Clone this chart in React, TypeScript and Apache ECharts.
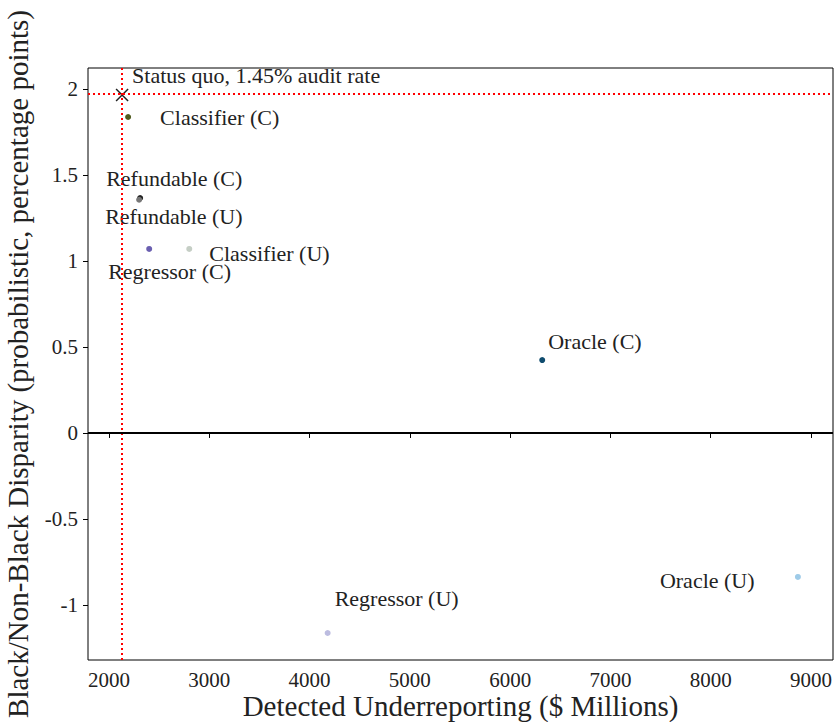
import React, { useEffect, useRef } from "react";
import * as echarts from "echarts";

const pointNames = [
  "Classifier (C)",
  "Refundable (C)",
  "Refundable (U)",
  "Regressor (C)",
  "Classifier (U)",
  "Oracle (C)",
  "Oracle (U)",
  "Regressor (U)",
];
const detected = [2190, 2310, 2300, 2400, 2800, 6320, 8870, 4180];
const disparity = [1.837, 1.366, 1.356, 1.07, 1.07, 0.424, -0.837, -1.163];
const pointColors = ["#4f5b1e", "#222222", "#777777", "#6a5fb0", "#c5cec5", "#0f4c6e", "#9ecbe8", "#bcbce0"];
const labelOffsets: number[][] = [
  [32, 0],
  [-34, -20],
  [-34, 17],
  [-41, 23],
  [20, 5],
  [6, -19],
  [-138, 4],
  [7, -34],
];

const statusQuoName = "Status quo, 1.45% audit rate";
const statusQuoX = 2130;
const statusQuoY = 1.965;

const xTicks = [2000, 3000, 4000, 5000, 6000, 7000, 8000, 9000];
const yTicks = [-1, -0.5, 0, 0.5, 1, 1.5, 2];

const FONT = "Liberation Serif";
const LABEL_SIZE = 22;

export default function App() {
  const ref = useRef<HTMLDivElement>(null);
  useEffect(() => {
    document.body.style.margin = "0";
    const chart = echarts.init(ref.current!, null, { renderer: "svg" });
    const data = pointNames.map((n, i) => ({
      name: n,
      value: [detected[i], disparity[i]],
      itemStyle: { color: pointColors[i], opacity: 1 },
      label: {
        show: true,
        formatter: n,
        position: "inside",
        align: "left",
        verticalAlign: "middle",
        offset: labelOffsets[i],
        color: "#222",
        fontFamily: FONT,
        fontSize: LABEL_SIZE,
      },
    }));
    chart.setOption({
      animation: false,
      grid: {
        left: 88,
        right: 1,
        top: 68,
        bottom: 62,
        show: true,
        borderColor: "#000",
        borderWidth: 1,
        backgroundColor: "transparent",
        containLabel: false,
        outerBoundsMode: "none",
      },
      xAxis: {
        type: "value",
        min: 1790,
        max: 9220,
        splitLine: { show: false },
        axisLine: { show: false },
        axisTick: { show: true, length: 5, inside: false, customValues: xTicks, lineStyle: { color: "#000" } },
        axisLabel: { customValues: xTicks, color: "#222", fontFamily: FONT, fontSize: 21, margin: 9, formatter: (v: number) => String(v) },
        name: "Detected Underreporting ($ Millions)",
        nameLocation: "middle",
        nameMoveOverlap: false,
        nameGap: 31,
        nameTextStyle: { color: "#222", fontFamily: FONT, fontSize: 29, verticalAlign: "top" },
      },
      yAxis: {
        type: "value",
        min: -1.32,
        max: 2.122,
        splitLine: { show: false },
        axisLine: { show: false },
        axisTick: { show: true, length: 5, inside: false, customValues: yTicks, lineStyle: { color: "#000" } },
        axisLabel: { customValues: yTicks, color: "#222", fontFamily: FONT, fontSize: 21, margin: 10, formatter: (v: number) => String(v) },
        name: "Black/Non-Black Disparity (probabilistic, percentage points)",
        nameLocation: "middle",
        nameMoveOverlap: false,
        nameGap: 56,
        nameTextStyle: { color: "#222", fontFamily: FONT, fontSize: 29 },
      },
      series: [
        {
          type: "scatter",
          symbolSize: 6,
          data,
          z: 3,
        },
        {
          type: "scatter",
          symbol: "path://M0,0L10,10M10,0L0,10",
          symbolSize: 12,
          itemStyle: { color: "none", borderColor: "#222", borderWidth: 1.5, opacity: 1 },
          data: [
            {
              name: statusQuoName,
              value: [statusQuoX, statusQuoY],
              label: {
                show: true,
                formatter: statusQuoName,
                position: "inside",
                align: "left",
                verticalAlign: "middle",
                offset: [10, -20],
                color: "#222",
                fontFamily: FONT,
                fontSize: LABEL_SIZE,
              },
            },
          ],
          z: 4,
          markLine: {
            silent: true,
            symbol: "none",
            label: { show: false },
            data: [
              { xAxis: statusQuoX, lineStyle: { color: "#ff0000", type: [2, 3], width: 2 } },
              { yAxis: statusQuoY, lineStyle: { color: "#ff0000", type: [2, 3], width: 2 } },
              { yAxis: 0, lineStyle: { color: "#000", type: "solid", width: 2 } },
            ],
          },
        },
      ],
    });
    return () => chart.dispose();
  }, []);
  return <div ref={ref} style={{ width: 834, height: 722 }} />;
}
